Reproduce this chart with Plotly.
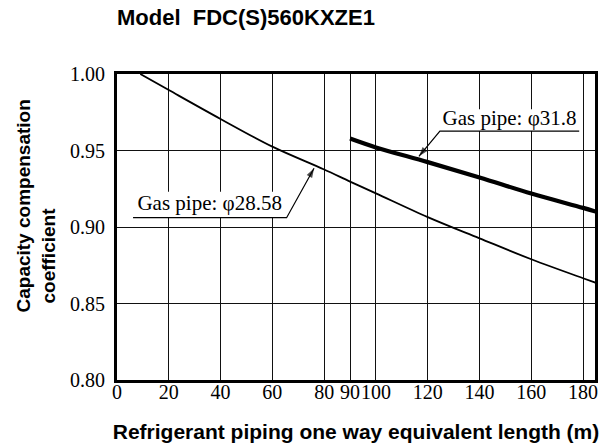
import plotly.graph_objects as go

# Capacity compensation coefficient vs. one-way equivalent piping length
length_2858 = [9, 20, 40, 60, 80, 90, 100, 120, 140, 160, 180, 185]
coef_2858 = [1.000, 0.9895, 0.9706, 0.9525, 0.9376, 0.9297, 0.9220, 0.9065, 0.8926, 0.8789, 0.8665, 0.8635]

length_318 = [90, 100, 120, 140, 160, 180, 185]
coef_318 = [0.9578, 0.9520, 0.9424, 0.9324, 0.9219, 0.9125, 0.9100]

x_ticks = [0, 20, 40, 60, 80, 90, 100, 120, 140, 160, 180]
y_ticks = [0.80, 0.85, 0.90, 0.95, 1.00]

label_2858 = "Gas pipe: \u03c628.58"
label_318 = "Gas pipe: \u03c631.8"

SERIF = "Liberation Serif"
SANS = "Liberation Sans"
NB = "\u00a0"

fig = go.Figure()

# white backing boxes behind the series labels (hide the grid there)
for bx0, bx1, by0, by1 in [(6.4, 65.6, 0.9061, 0.9231), (124.7, 178.5, 0.9627, 0.9769)]:
    fig.add_trace(go.Scatter(x=[bx0, bx1, bx1, bx0, bx0], y=[by0, by0, by1, by1, by0],
                             mode="lines", fill="toself", fillcolor="white",
                             line=dict(width=0, color="white"),
                             showlegend=False, hoverinfo="skip"))

# curves
fig.add_trace(go.Scatter(x=length_2858, y=coef_2858, mode="lines",
                         line=dict(color="black", width=1.8, shape="spline"),
                         showlegend=False, hoverinfo="skip"))
fig.add_trace(go.Scatter(x=length_318, y=coef_318, mode="lines",
                         line=dict(color="black", width=4.2, shape="spline"),
                         showlegend=False, hoverinfo="skip"))

# series labels
fig.add_trace(go.Scatter(x=[35.8, 151.6], y=[0.9148, 0.9700], mode="text",
                         text=[label_2858, label_318], textposition="middle center",
                         textfont=dict(family=SERIF, size=21, color="black"),
                         showlegend=False, hoverinfo="skip"))

# underline + leader arrow for each label
for ux0, ux1, uy, tx, ty in [(6.2, 65.5, 0.9061, 76.1, 0.9384),
                             (178.5, 124.7, 0.9627, 116.6, 0.9462)]:
    fig.add_trace(go.Scatter(x=[ux0, ux1, tx], y=[uy, uy, ty], mode="lines+markers",
                             line=dict(color="black", width=1.2),
                             marker=dict(symbol="arrow", size=[0, 0, 10], color="black",
                                         angleref="previous", line=dict(width=0)),
                             showlegend=False, hoverinfo="skip"))


def axis_style(**extra):
    style = dict(showgrid=True, gridcolor="#111111", gridwidth=1.4,
                 showline=True, linecolor="black", linewidth=3, mirror=True,
                 zeroline=False, automargin=False,
                 tickfont=dict(family=SERIF, size=20, color="black"))
    style.update(extra)
    return style


y_title = ("<b>" + NB * 8 + "Capacity compensation<br>coefficient" + NB * 11 + "</b>")

fig.update_layout(
    width=604, height=448,
    margin=dict(l=117, r=9, t=74, b=68),
    paper_bgcolor="white", plot_bgcolor="white",
    template="none",
    title=dict(text="<b>Model" + NB * 2 + "FDC(S)560KXZE1</b>",
               xref="paper", x=0, xanchor="left",
               yref="container", y=1 - 17 / 448, yanchor="middle",
               font=dict(family=SANS, size=22, color="black")),
    xaxis=axis_style(range=[0, 184.6], tickvals=x_ticks, tickangle=0,
                     ticks="", ticklabelstandoff=-8,
                     title=dict(text="<b>Refrigerant piping one way equivalent length (m)</b>",
                                standoff=23,
                                font=dict(family=SANS, size=21, color="black"))),
    yaxis=axis_style(range=[0.80, 1.00], tickvals=y_ticks, tickformat=".2f",
                     ticks="outside", tickcolor="rgba(0,0,0,0)", ticklen=5,
                     title=dict(text=y_title, standoff=10,
                                font=dict(family=SANS, size=19, color="black"))),
)

fig.write_html("out.html")
